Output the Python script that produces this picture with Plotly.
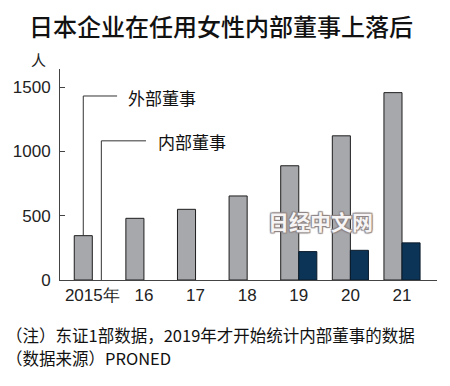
import plotly.graph_objects as go

categories = ["2015年", "16", "17", "18", "19", "20", "21"]
outside_directors = [345, 480, 550, 654, 889, 1122, 1458]
inside_directors = [None, None, None, None, 221, 231, 289]
y_ticks = [0, 500, 1000, 1500]

title_text = "日本企业在任用女性内部董事上落后"
note_lines = ["（注）东证1部数据，2019年才开始统计内部董事的数据", "（数据来源）PRONED"]

W, H = 450, 386
L, R, T, B = 60, 13, 69, 105.5
cjk = "Noto Sans CJK SC"
num_font = "Liberation Sans"
PW, PH = W - L - R, H - T - B

x_idx = list(range(len(categories)))

fig = go.Figure()
fig.add_trace(go.Bar(x=x_idx, y=outside_directors, name="外部董事",
                     marker=dict(color="#a7a8ac", line=dict(color="#1e1e1e", width=1))))
fig.add_trace(go.Bar(x=x_idx, y=inside_directors, name="内部董事",
                     marker=dict(color="#0c3457", line=dict(color="#0a1a2a", width=1))))

fig.update_layout(
    width=W, height=H,
    margin=dict(l=L, r=R, t=T, b=B, pad=0, autoexpand=False),
    paper_bgcolor="white", plot_bgcolor="white",
    barmode="group", bargap=0.30, bargroupgap=0,
    showlegend=False,
    font=dict(family=num_font, color="#222"),
)
fig.update_xaxes(
    automargin=False,
    range=[-0.626, 6.678], tickmode="array", tickvals=x_idx, ticktext=categories,
    showline=True, linecolor="#444", linewidth=1, showgrid=False, zeroline=False,
    ticks="", tickfont=dict(family=num_font, size=17, color="#222"),
)
fig.update_yaxes(
    automargin=False,
    range=[0, 1642], tickmode="array", tickvals=y_ticks,
    showline=True, linecolor="#444", linewidth=1, showgrid=False, zeroline=False,
    ticks="inside", ticklen=5, tickcolor="#444",
    ticklabelstandoff=5,
    tickfont=dict(family=num_font, size=17, color="#222"),
)

# title
fig.add_annotation(text=title_text, xref="paper", yref="paper",
                   x=(220.5 - L) / PW, y=1 + (T - 25) / PH,
                   showarrow=False, xanchor="center", yanchor="middle",
                   font=dict(family=cjk, size=24, color="#111", weight=500))
# unit
fig.add_annotation(text="人", xref="paper", yref="paper",
                   x=(38.5 - L) / PW, y=1 + (T - 59) / PH,
                   showarrow=False, xanchor="center", yanchor="middle",
                   font=dict(family=cjk, size=15, color="#222"))

# series labels with leader lines (data coordinates)
bw = 0.175
fig.add_shape(type="line", x0=-bw, x1=-bw, y0=outside_directors[0], y1=1432,
              line=dict(color="#333", width=1))
fig.add_shape(type="line", x0=-bw, x1=0.48, y0=1432, y1=1432,
              line=dict(color="#333", width=1))
fig.add_annotation(text="外部董事", x=0.66, y=1418, xanchor="left", yanchor="middle",
                   showarrow=False, font=dict(family=cjk, size=17, color="#111"))
fig.add_shape(type="line", x0=bw, x1=bw, y0=0, y1=1083,
              line=dict(color="#333", width=1))
fig.add_shape(type="line", x0=bw, x1=1.04, y0=1083, y1=1083,
              line=dict(color="#333", width=1))
fig.add_annotation(text="内部董事", x=1.24, y=1075, xanchor="left", yanchor="middle",
                   showarrow=False, font=dict(family=cjk, size=17, color="#111"))

# watermark
fig.add_annotation(text="日经中文网", xref="paper", yref="paper",
                   x=(320.5 - L) / PW, y=(280.5 - 221) / PH,
                   showarrow=False, xanchor="center", yanchor="middle",
                   font=dict(family=cjk, size=21, color="#f6f4f4", weight="bold",
                             shadow="1px 1px 1px #8f8585, -1px -1px 1px #8f8585, 1px -1px 1px #8f8585, -1px 1px 1px #8f8585"))

# notes
for line, yc in zip(note_lines, [335.5, 358.5]):
    fig.add_annotation(text=line, xref="paper", yref="paper",
                       x=(4 - L) / PW, y=-(yc - (H - B)) / PH,
                       showarrow=False, xanchor="left", yanchor="middle", align="left",
                       font=dict(family=cjk, size=16.5, color="#111"))

fig.write_html("out.html", config={"displayModeBar": False},
               post_script="document.body.style.margin='0';document.body.style.padding='0';")
